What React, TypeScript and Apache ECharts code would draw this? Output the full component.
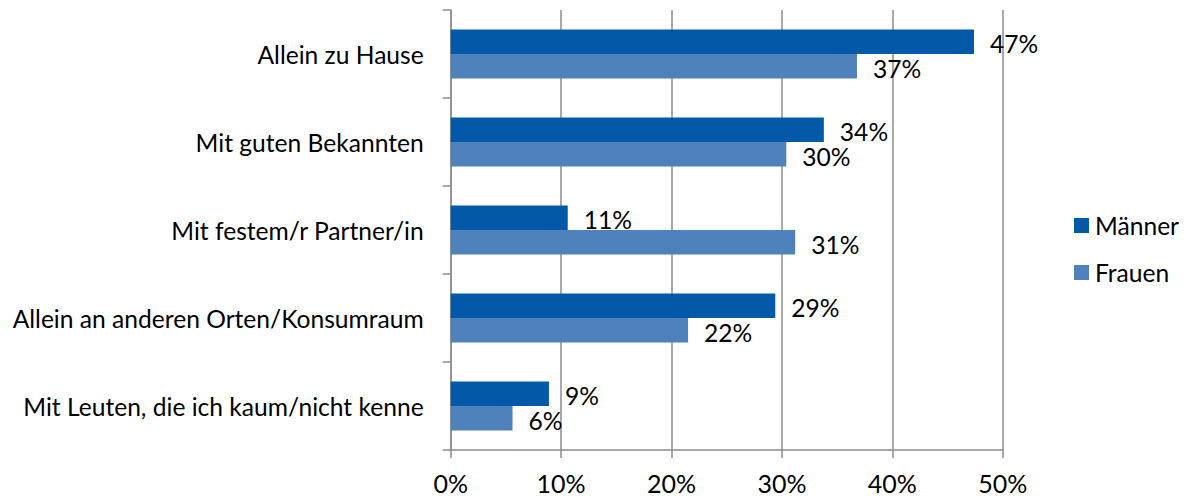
import React, { useEffect, useRef } from "react";
import * as echarts from "echarts";

const categories = [
  "Allein zu Hause",
  "Mit guten Bekannten",
  "Mit festem/r Partner/in",
  "Allein an anderen Orten/Konsumraum",
  "Mit Leuten, die ich kaum/nicht kenne",
];
const maenner = [47.4, 33.8, 10.6, 29.4, 8.9];
const frauen = [36.8, 30.4, 31.2, 21.5, 5.6];
const xTicks = [0, 10, 20, 30, 40, 50];

const FONT = "Lato";
const FS = 24.6;
const GRAY = "#8c8c8c";

export default function App() {
  const ref = useRef<HTMLDivElement>(null);
  useEffect(() => {
    if (!ref.current) return;
    const chart = echarts.init(ref.current, null, { renderer: "svg" });
    const label = {
      show: true,
      position: "right" as const,
      distance: 16,
      offset: [0, 2],
      color: "#000",
      fontFamily: FONT,
      fontSize: FS,
      formatter: (p: any) => Math.round(p.value) + "%",
    };
    chart.setOption({
      animation: false,
      textStyle: { fontFamily: FONT },
      grid: {
        left: 450.7,
        right: 181.3,
        top: 10,
        bottom: 47,
        containLabel: false,
      },
      legend: {
        orient: "vertical",
        left: 1069,
        top: 208,
        itemWidth: 15,
        itemHeight: 15,
        itemGap: 22,
        icon: "rect",
        textStyle: { fontFamily: FONT, fontSize: FS, color: "#000", padding: [0, 0, 0, 1] },
        data: ["Männer", "Frauen"],
      },
      xAxis: {
        type: "value",
        min: xTicks[0],
        max: xTicks[xTicks.length - 1],
        interval: 10,
        axisLine: { show: true, lineStyle: { color: GRAY, width: 1.5 } },
        axisTick: { show: true, length: 8, lineStyle: { color: GRAY, width: 1.5 } },
        splitLine: { show: true, lineStyle: { color: GRAY, width: 1.5 } },
        axisLabel: {
          color: "#000",
          fontFamily: FONT,
          fontSize: 25,
          margin: 20,
          formatter: (v: number) => v + "%",
        },
      },
      yAxis: {
        type: "category",
        inverse: true,
        data: categories,
        axisLine: { show: true, lineStyle: { color: GRAY, width: 1.5 } },
        axisTick: { show: true, length: 8, lineStyle: { color: GRAY, width: 1.5 } },
        axisLabel: {
          color: "#000",
          fontFamily: FONT,
          fontSize: FS,
          margin: 27,
        },
      },
      series: [
        {
          name: "Männer",
          type: "bar",
          data: maenner,
          barWidth: 24.5,
          barGap: "0%",
          itemStyle: { color: "#0458a8" },
          label,
        },
        {
          name: "Frauen",
          type: "bar",
          data: frauen,
          barWidth: 24.5,
          barGap: "0%",
          itemStyle: { color: "#4f81bd" },
          label,
        },
      ],
    });
    return () => chart.dispose();
  }, []);
  return (
    <div
      ref={ref}
      style={{ position: "absolute", left: 0, top: 0, width: 1184, height: 497, background: "#fff" }}
    />
  );
}
